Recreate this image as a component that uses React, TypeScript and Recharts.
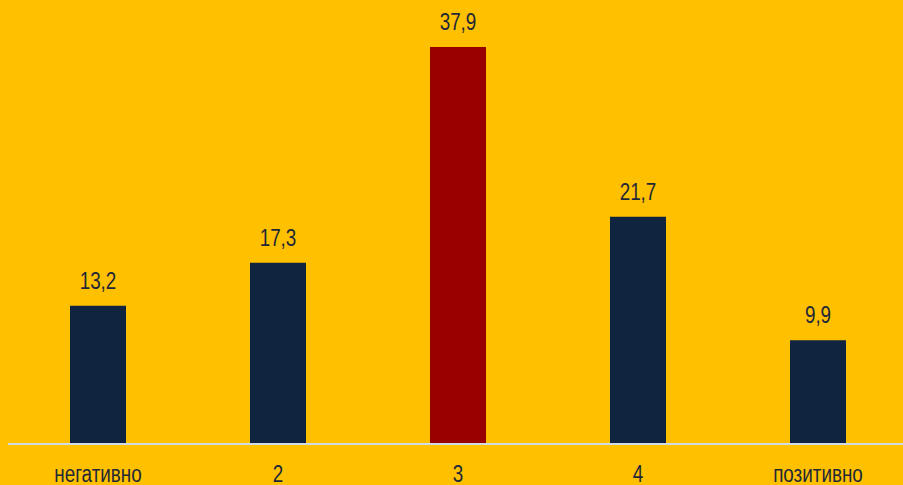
import { BarChart, Bar, XAxis, YAxis, Cell, LabelList } from 'recharts'

const categories = ['негативно', '2', '3', '4', 'позитивно']
const values = [13.2, 17.3, 37.9, 21.7, 9.9]
const highlight = [false, false, true, false, false]

const BG = '#FFC000'
const NAVY = '#11243F'
const RED = '#990000'
const TEXT = '#1F2836'
const FONT = '"Liberation Sans", Arial, sans-serif'
const FS = 23
// Arial Narrow look: squeeze Liberation Sans horizontally
const SQUEEZE = 0.82

const data = categories.map((name, i) => ({ name, value: values[i], hi: highlight[i] }))

const fmt = (v: unknown) => Number(v).toFixed(1).replace('.', ',')

const NarrowTick = (props: any) => {
  const { x, y, payload } = props
  return (
    <text
      transform={`translate(${x},${y}) scale(${SQUEEZE},1)`}
      textAnchor="middle"
      dy="0.71em"
      fill={TEXT}
      fontSize={FS}
      fontFamily={FONT}
    >
      {payload.value}
    </text>
  )
}

const NarrowLabel = (props: any) => {
  const { x, y, width, value } = props
  return (
    <text
      transform={`translate(${Number(x) + Number(width) / 2},${Number(y) - 17}) scale(${SQUEEZE},1)`}
      textAnchor="middle"
      fill={TEXT}
      fontSize={FS}
      fontFamily={FONT}
    >
      {fmt(value)}
    </text>
  )
}

export default function App() {
  return (
    <div style={{ position: 'fixed', inset: 0, background: BG, overflow: 'hidden' }}>
      <BarChart
        width={903}
        height={485}
        data={data}
        margin={{ top: 25, right: -5, left: 8, bottom: 0 }}
        barCategoryGap={62}
      >
        <XAxis
          dataKey="name"
          height={41}
          interval={0}
          tickLine={false}
          tickMargin={16}
          axisLine={{ stroke: '#CFDCE6', strokeWidth: 2 }}
          tick={<NarrowTick />}
        />
        <YAxis hide domain={[0, 40]} />
        <Bar dataKey="value" isAnimationActive={false}>
          {data.map((d, i) => (
            <Cell key={i} fill={d.hi ? RED : NAVY} />
          ))}
          <LabelList dataKey="value" content={<NarrowLabel />} />
        </Bar>
      </BarChart>
    </div>
  )
}
